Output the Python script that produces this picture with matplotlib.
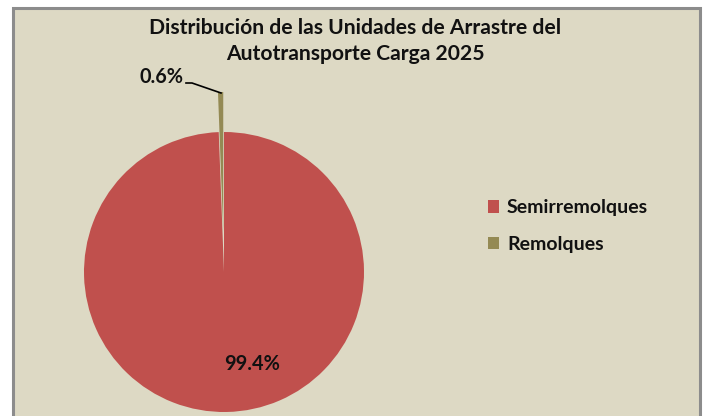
import matplotlib
matplotlib.use('Agg')
import matplotlib.pyplot as plt
from matplotlib.patches import Rectangle

# Data
categories = ['Semirremolques', 'Remolques']
shares = [99.4, 0.6]
colors = ['#C0504D', '#948A54']
title = 'Distribución de las Unidades de Arrastre del\nAutotransporte Carga 2025'

plt.rcParams['font.family'] = ['Lato', 'DejaVu Sans']

W, H = 704, 416
fig = plt.figure(figsize=(W / 100, H / 100), dpi=100)
fig.patch.set_facecolor('white')
ax = fig.add_axes([0, 0, 1, 1])

# Chart area background with border (pixel coords, y up)
ax.add_patch(Rectangle((12.5, -10), 687.5, H - 7.5 + 10, facecolor='#DDD9C4',
                       edgecolor='#8C8C8C', linewidth=2.2, zorder=0))

cx, cy, r = 224, H - 272, 140
wedges, _ = ax.pie(shares, colors=colors, startangle=90, counterclock=False,
                   radius=r, center=(cx, cy), explode=[0, 40],
                   wedgeprops={'linewidth': 0, 'zorder': 2})

ax.set_xlim(0, W)
ax.set_ylim(0, H)
ax.set_aspect('auto')
ax.axis('off')

# Title
ax.text(355, H - 41, title, ha='center', va='center', fontsize=15.2,
        fontweight='bold', color='#111111', linespacing=1.39)

# Data labels
ax.text(161, H - 77, f'{shares[1]:.1f}%', ha='center', va='center',
        fontsize=14.3, fontweight='bold', color='#111111', zorder=5)
ax.text(252, H - 364, f'{shares[0]:.1f}%', ha='center', va='center',
        fontsize=14.3, fontweight='bold', color='#111111', zorder=5)
ax.plot([186, 192, 221], [H - 83, H - 83, H - 93], color='black', lw=1.2, zorder=4)

# Legend
leg = ax.legend(wedges, categories, loc='center left',
                bbox_to_anchor=(470 / W, 1 - 226 / H), frameon=False,
                prop={'size': 14, 'weight': 'bold'}, handlelength=0.6,
                handleheight=0.6, handletextpad=0.4, labelspacing=1.0)
for t in leg.get_texts():
    t.set_color('#111111')

fig.savefig('out.png', dpi=100, facecolor=fig.get_facecolor())
